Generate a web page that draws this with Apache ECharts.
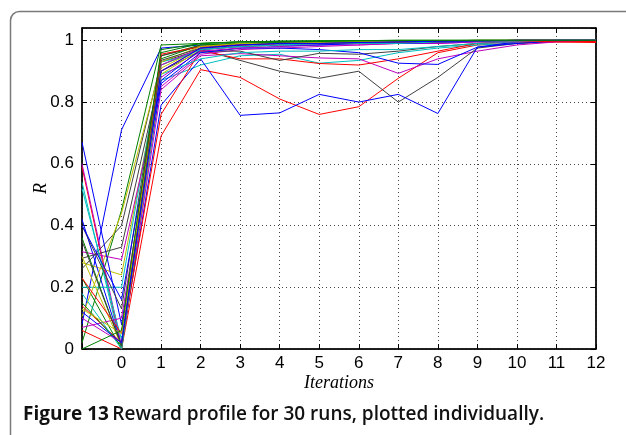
<!DOCTYPE html>
<html>
<head>
<meta charset="utf-8">
<script src="https://cdn.jsdelivr.net/npm/echarts@6/dist/echarts.min.js"></script>
<style>
html,body{margin:0;padding:0;background:#fff;}
#chart{width:626px;height:435px;}
</style>
</head>
<body>
<div id="chart"></div>
<script>
// Iterations (x positions, -1 is the unlabeled start)
var iterations = [-1, 0, 1, 2, 3, 4, 5, 6, 7, 8, 9, 10, 11, 12];
var xTickLabels = ['', '0', '1', '2', '3', '4', '5', '6', '7', '8', '9', '10', '11', '12'];
var yTickLabels = ['0', '0.2', '0.4', '0.6', '0.8', '1'];

// 30 runs (reward R per iteration)
var run1  = [0.08, 0.71, 0.975, 0.985, 0.99, 0.993, 0.995, 0.996, 0.997, 0.998, 0.999, 1, 1, 1];
var run2  = [0.02, 0.45, 0.985, 0.99, 0.995, 0.997, 0.998, 0.999, 1, 1, 1, 1, 1, 1];
var run3  = [0.59, 0.00, 0.69, 0.905, 0.88, 0.81, 0.76, 0.785, 0.877, 0.96, 0.985, 0.99, 0.995, 0.995];
var run4  = [0.54, 0.00, 0.87, 0.92, 0.95, 0.955, 0.926, 0.935, 0.96, 0.975, 0.985, 0.99, 1, 1];
var run5  = [0.60, 0.01, 0.84, 0.95, 0.957, 0.95, 0.943, 0.94, 0.893, 0.94, 0.965, 0.985, 0.995, 0.997];
var run6  = [0.28, 0.24, 0.91, 0.975, 0.985, 0.99, 0.99, 0.993, 0.995, 0.996, 0.998, 1, 1, 1];
var run7  = [0.26, 0.40, 0.93, 0.97, 0.935, 0.90, 0.877, 0.90, 0.80, 0.88, 0.975, 0.99, 1, 1];
var run8  = [0.42, 0.01, 0.79, 0.94, 0.757, 0.765, 0.825, 0.80, 0.825, 0.763, 0.978, 0.99, 0.998, 1];
var run9  = [0.23, 0.00, 0.95, 0.985, 0.99, 0.993, 0.995, 0.996, 0.997, 0.998, 1, 1, 1, 1];
var run10 = [0.14, 0.02, 0.76, 0.967, 0.94, 0.94, 0.925, 0.92, 0.94, 0.965, 0.99, 0.995, 0.998, 0.997];
var run11 = [0.20, 0.20, 0.93, 0.96, 0.975, 0.98, 0.985, 0.99, 0.99, 0.995, 0.998, 1, 1, 1];
var run12 = [0.315, 0.29, 0.85, 0.955, 0.97, 0.975, 0.98, 0.985, 0.99, 0.99, 0.995, 0.998, 1, 1];
var run13 = [0.105, 0.44, 0.92, 0.97, 0.98, 0.985, 0.99, 0.99, 0.993, 0.995, 0.998, 1, 1, 1];
var run14 = [0.294, 0.33, 0.90, 0.965, 0.965, 0.935, 0.958, 0.955, 0.965, 0.98, 0.99, 0.995, 1, 1];
var run15 = [0.67, 0.08, 0.86, 0.96, 0.975, 0.975, 0.97, 0.96, 0.926, 0.922, 0.978, 0.995, 1, 1];
var run16 = [0.36, 0.01, 0.96, 0.99, 0.995, 0.997, 0.998, 0.999, 1, 1, 1, 1, 1, 1];
var run17 = [0.06, 0.00, 0.90, 0.975, 0.985, 0.99, 0.99, 0.993, 0.995, 0.997, 0.998, 1, 1, 0.995];
var run18 = [0.52, 0.03, 0.89, 0.94, 0.96, 0.965, 0.965, 0.97, 0.97, 0.98, 0.99, 0.995, 1, 1];
var run19 = [0.07, 0.10, 0.88, 0.965, 0.975, 0.98, 0.985, 0.985, 0.99, 0.99, 0.995, 0.995, 0.998, 1];
var run20 = [0.30, 0.01, 0.89, 0.97, 0.98, 0.985, 0.99, 0.99, 0.995, 0.995, 0.998, 1, 1, 1];
var run21 = [0.40, 0.13, 0.95, 0.98, 0.99, 0.99, 0.993, 0.995, 0.997, 0.998, 1, 1, 1, 1];
var run22 = [0.40, 0.16, 0.87, 0.97, 0.98, 0.985, 0.985, 0.99, 0.99, 0.993, 0.997, 1, 1, 1];
var run23 = [0.15, 0.01, 0.94, 0.985, 0.99, 0.995, 0.996, 0.997, 0.998, 0.999, 1, 1, 1, 1];
var run24 = [0.23, 0.05, 0.955, 0.98, 0.985, 0.99, 0.99, 0.99, 0.995, 0.995, 0.998, 0.998, 0.995, 0.993];
var run25 = [0.18, 0.00, 0.92, 0.97, 0.98, 0.985, 0.99, 0.99, 0.99, 0.995, 0.997, 0.998, 1, 1];
var run26 = [0.10, 0.02, 0.92, 0.975, 0.985, 0.99, 0.99, 0.993, 0.995, 0.997, 0.998, 1, 1, 1];
var run27 = [0.13, 0.05, 0.93, 0.98, 0.99, 0.99, 0.993, 0.995, 0.997, 0.998, 1, 1, 1, 1];
var run28 = [0.35, 0.01, 0.935, 0.975, 0.985, 0.99, 0.99, 0.993, 0.995, 0.997, 0.998, 1, 1, 1];
var run29 = [0.12, 0.02, 0.90, 0.975, 0.985, 0.99, 0.99, 0.993, 0.995, 0.997, 0.998, 1, 1, 1];
var run30 = [0.00, 0.06, 0.97, 0.99, 0.995, 0.997, 0.998, 0.999, 1, 1, 1, 1, 1, 1];

var runs = [run1, run2, run3, run4, run5, run6, run7, run8, run9, run10,
            run11, run12, run13, run14, run15, run16, run17, run18, run19, run20,
            run21, run22, run23, run24, run25, run26, run27, run28, run29, run30];

// MATLAB default line colour order (b, g, r, c, m, y, k)
var palette = ['#0000ff', '#008000', '#ff0000', '#00bfbf', '#bf00bf', '#bfbf00', '#404040'];

var series = runs.map(function (r, k) {
  return {
    type: 'line',
    name: 'Run ' + (k + 1),
    data: iterations.map(function (x, i) { return [x, r[i]]; }),
    showSymbol: false,
    symbol: 'none',
    lineStyle: { width: 1, color: palette[k % palette.length] },
    itemStyle: { color: palette[k % palette.length] },
    z: 3
  };
});

var labelFont = 'Liberation Sans, Arial, sans-serif';

var chart = echarts.init(document.getElementById('chart'), null, { renderer: 'canvas' });
chart.setOption({
  animation: false,
  backgroundColor: '#ffffff',
  grid: { left: 82, right: 30, top: 28, bottom: 86, show: true, borderColor: '#000', borderWidth: 1, backgroundColor: 'transparent' },
  xAxis: [{
    type: 'value', min: -1, max: 12, interval: 1,
    axisLine: { show: true, onZero: false, lineStyle: { color: '#000', width: 1.5 } },
    axisTick: { show: true, inside: true, length: 5, lineStyle: { color: '#000' } },
    axisLabel: {
      color: '#000', fontSize: 17, fontFamily: labelFont, margin: 6,
      formatter: function (v) { var i = iterations.indexOf(Math.round(v)); return i >= 0 ? xTickLabels[i] : ''; }
    },
    splitLine: { show: true, lineStyle: { type: [1, 3], color: '#444', width: 1 } },
    name: 'Iterations', nameLocation: 'middle', nameGap: 25, nameMoveOverlap: false,
    nameTextStyle: { fontFamily: 'Liberation Serif, DejaVu Serif, serif', fontStyle: 'italic', fontSize: 18, color: '#000' }
  }, {
    type: 'value', position: 'top', min: -1, max: 12, interval: 1,
    axisLine: { show: true, onZero: false, lineStyle: { color: '#000', width: 1.5 } },
    axisTick: { show: true, inside: true, length: 5, lineStyle: { color: '#000' } },
    axisLabel: { show: false }, splitLine: { show: false }
  }],
  yAxis: [{
    type: 'value', min: 0, max: 1.04, interval: 0.2,
    axisLine: { show: true, onZero: false, lineStyle: { color: '#000', width: 1.5 } },
    axisTick: { show: true, inside: true, length: 5, lineStyle: { color: '#000' } },
    axisLabel: {
      color: '#000', fontSize: 17, fontFamily: labelFont, margin: 8, showMaxLabel: false,
      formatter: function (v) { var i = Math.round(v / 0.2); return Math.abs(v - i * 0.2) < 1e-6 ? yTickLabels[i] : ''; }
    },
    splitLine: { show: true, lineStyle: { type: [1, 3], color: '#444', width: 1 } },
    name: 'R', nameLocation: 'middle', nameGap: 32, nameRotate: 90, nameMoveOverlap: false,
    nameTextStyle: { fontFamily: 'Liberation Serif, DejaVu Serif, serif', fontStyle: 'italic', fontSize: 18, color: '#000' }
  }, {
    type: 'value', position: 'right', min: 0, max: 1.04, interval: 0.2,
    axisLine: { show: true, onZero: false, lineStyle: { color: '#000', width: 1.5 } },
    axisTick: { show: true, inside: true, length: 5, lineStyle: { color: '#000' } },
    axisLabel: { show: false }, splitLine: { show: false }
  }],
  series: series,
  graphic: [
    { type: 'rect', left: 8, top: 9, shape: { width: 640, height: 450, r: 9 },
      style: { fill: 'none', stroke: '#7a7a7a', lineWidth: 1.5 }, z: 0, silent: true },
    { type: 'text', left: 23, top: 405, z: 10,
      style: {
        text: '{b|Figure 13} {n|Reward profile for 30 runs, plotted individually.}',
        rich: {
          b: { fontFamily: 'Open Sans, Noto Sans, sans-serif', fontWeight: 'bold', fontSize: 19, fill: '#111' },
          n: { fontFamily: 'Open Sans, Noto Sans, sans-serif', fontWeight: 600, fontSize: 19, fill: '#111' }
        }
      } }
  ]
});
</script>
</body>
</html>
